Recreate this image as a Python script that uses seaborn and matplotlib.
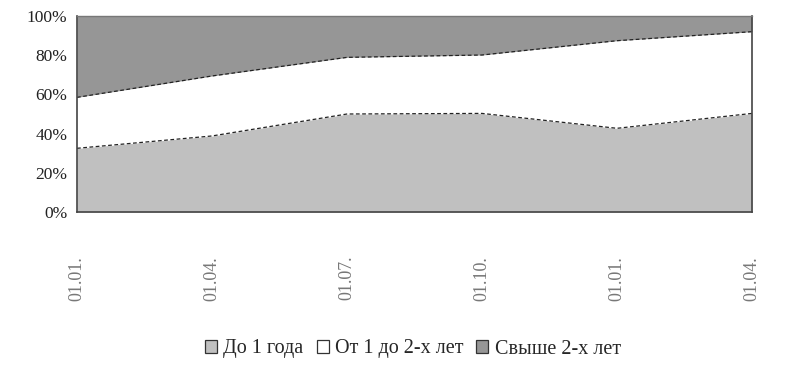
import matplotlib
matplotlib.use("Agg")
import matplotlib.pyplot as plt
import seaborn as sns
import numpy as np
import pandas as pd
from matplotlib.patches import Patch

dates = ["01.01.", "01.04.", "01.07.", "01.10.", "01.01.", "01.04."]
up_to_1 = [32.5, 38.8, 50.0, 50.3, 42.7, 50.3]
from_1_to_2 = [26.0, 30.6, 28.9, 29.8, 44.7, 41.7]
over_2 = [41.5, 30.6, 21.1, 19.9, 12.6, 8.0]
series_names = ["До 1 года", "От 1 до 2-х лет", "Свыше 2-х лет"]
colors = ["#c0c0c0", "#ffffff", "#969696"]

sns.set_style("white")
plt.rcParams['font.family'] = ['Liberation Serif', 'DejaVu Serif']

fig = plt.figure(figsize=(8.03, 3.88), dpi=100)
ax = fig.add_axes([77/803, 1-212/388, (752-77)/803, (212-16)/388])

x = np.arange(len(dates))
ax.stackplot(x, up_to_1, from_1_to_2, over_2, colors=colors, linewidth=0)

cum1 = np.array(up_to_1)
cum2 = cum1 + np.array(from_1_to_2)
df = pd.DataFrame({"x": np.concatenate([x, x]),
                   "y": np.concatenate([cum1, cum2]),
                   "s": ["a"] * len(x) + ["b"] * len(x)})
sns.lineplot(data=df, x="x", y="y", units="s", estimator=None, color="#222222",
             linestyle=(0, (3, 2)), linewidth=0.9, ax=ax, legend=False)

ax.set_xlim(0, len(dates) - 1)
ax.set_ylim(0, 100)
ax.set_yticks([0, 20, 40, 60, 80, 100])
ax.set_yticklabels([f"{v}%" for v in [0, 20, 40, 60, 80, 100]], fontsize=12.5, color="#222222")
ax.set_xticks(x)
ax.set_xticklabels(dates, rotation=90, fontsize=13, color="#777777", va="top", ha="center")
ax.tick_params(axis="x", direction="out", length=3.6, width=1, color="#444444", pad=28)
ax.tick_params(axis="y", direction="out", length=5, width=1, color="#444444", pad=2)
ax.set_xlabel("")
ax.set_ylabel("")
for side in ["left", "bottom", "right"]:
    ax.spines[side].set_color("#444444")
    ax.spines[side].set_linewidth(1.2)
ax.spines["top"].set_color("#777777")
ax.spines["top"].set_linewidth(1.0)

handles = [Patch(facecolor=c, edgecolor="#333333", linewidth=0.9) for c in colors]
fig.legend(handles, series_names, loc="center", bbox_to_anchor=(413/803, 1-349/388),
           ncol=3, frameon=False, fontsize=14.5, handlelength=0.6, handleheight=0.6,
           handletextpad=0.3, columnspacing=0.65)

fig.savefig("out.png", dpi=100)
